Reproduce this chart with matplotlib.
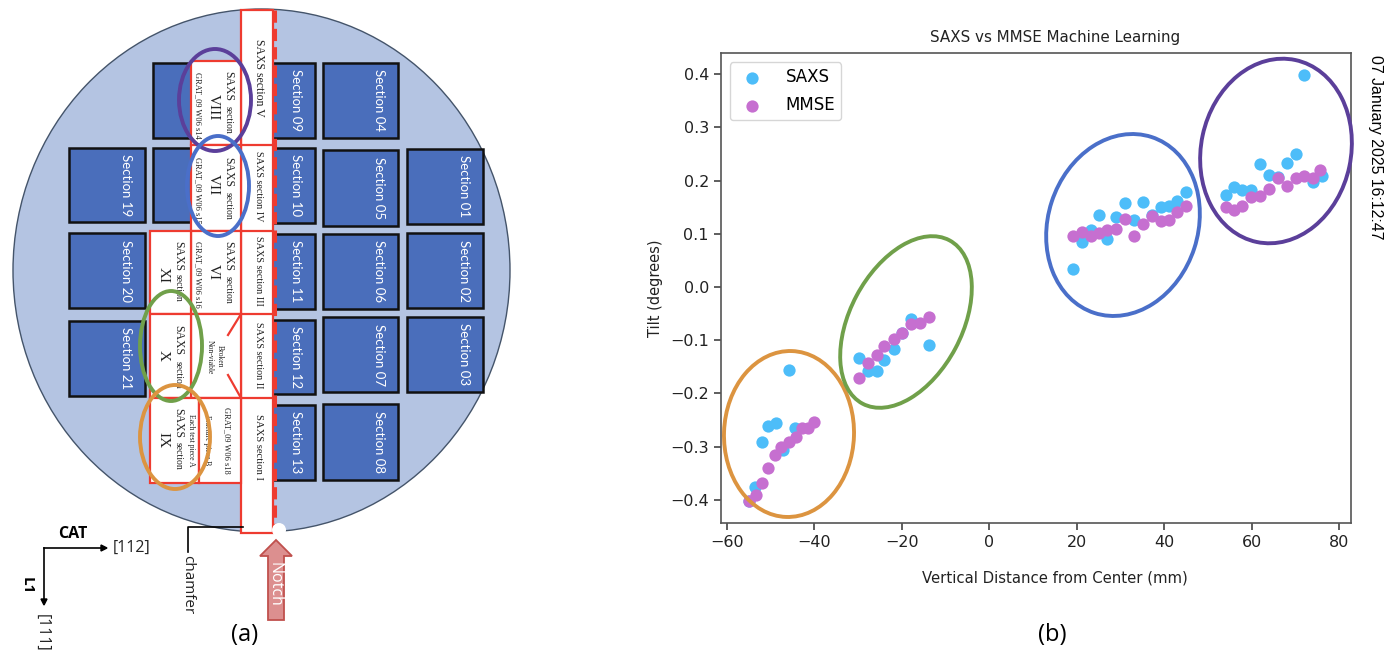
import matplotlib
matplotlib.use('Agg')
import matplotlib.pyplot as plt
from matplotlib.patches import Ellipse, Rectangle, Polygon

# panel (b) data
saxs_x = [-54.9, -53.5, -51.9, -50.5, -48.8, -47.2, -45.9, -44.4,
          -29.8, -27.8, -25.7, -24.0, -21.9, -19.9, -18.0, -13.9,
          19.2, 21.2, 23.2, 25.0, 27.0, 29.0, 31.1, 33.1, 35.1, 37.2, 39.2, 41.1, 43.0, 45.0,
          54.0, 56.0, 57.8, 59.8, 61.9, 63.9, 65.9, 68.0, 70.0, 72.0, 74.0, 76.0]
saxs_y = [-0.402, -0.375, -0.292, -0.261, -0.256, -0.306, -0.156, -0.265,
          -0.134, -0.158, -0.158, -0.137, -0.116, -0.087, -0.060, -0.108,
          0.033, 0.085, 0.107, 0.136, 0.090, 0.131, 0.157, 0.126, 0.160, 0.135, 0.150, 0.153, 0.162, 0.179,
          0.172, 0.187, 0.183, 0.183, 0.231, 0.210, 0.207, 0.233, 0.250, 0.398, 0.197, 0.209]
mmse_x = [-54.9, -53.3, -51.9, -50.5, -48.9, -47.7, -45.9, -44.3, -42.9, -41.4, -40.0,
          -29.8, -27.8, -25.7, -24.0, -21.9, -19.9, -18.0, -15.9, -13.9,
          19.2, 21.2, 23.2, 25.0, 27.0, 29.0, 31.1, 33.1, 35.1, 37.2, 39.2, 41.1, 43.0, 45.0,
          54.0, 56.0, 57.8, 59.8, 61.9, 63.9, 65.9, 68.0, 70.0, 72.0, 74.0, 75.6]
mmse_y = [-0.402, -0.390, -0.368, -0.340, -0.315, -0.301, -0.291, -0.282, -0.264, -0.264, -0.254,
          -0.170, -0.143, -0.127, -0.110, -0.098, -0.086, -0.069, -0.068, -0.057,
          0.095, 0.104, 0.095, 0.102, 0.107, 0.109, 0.128, 0.095, 0.119, 0.134, 0.124, 0.125, 0.140, 0.152,
          0.150, 0.145, 0.153, 0.169, 0.171, 0.185, 0.205, 0.189, 0.205, 0.208, 0.205, 0.219]
x_ticks = [-60, -40, -20, 0, 20, 40, 60, 80]
y_ticks = [-0.4, -0.3, -0.2, -0.1, 0.0, 0.1, 0.2, 0.3, 0.4]

# panel (a) wafer map
section_names = ['Section 04', 'Section 05', 'Section 06', 'Section 07', 'Section 08',
                 'Section 01', 'Section 02', 'Section 03',
                 'Section 19', 'Section 20', 'Section 21',
                 'Section 09', 'Section 10', 'Section 11', 'Section 12', 'Section 13']
section_boxes = [(323, 63, 398, 138), (323, 150, 398, 226), (323, 234, 398, 309), (323, 317, 398, 392), (323, 404, 398, 480),
                 (407, 149, 483, 224), (407, 233, 483, 308), (407, 317, 483, 392),
                 (69, 148, 145, 222), (69, 233, 145, 308), (69, 321, 145, 396),
                 (270, 63, 315, 138), (270, 148, 315, 223), (270, 234, 315, 309), (270, 320, 315, 394), (270, 405, 315, 480)]
hidden_boxes = [(153, 63, 200, 138), (153, 148, 200, 222)]

W, H = 1395, 654
BLUE = '#4a6ebb'
RED = '#ee3b30'

fig = plt.figure(figsize=(W / 100, H / 100), dpi=100)

# scatter panel
ax = fig.add_axes([720.7 / W, 1 - 522.7 / H, 630 / W, 469.4 / H])
ax.scatter(saxs_x, saxs_y, s=78, color='#4dbdf9', label='SAXS', linewidths=0)
ax.scatter(mmse_x, mmse_y, s=78, color='#c66fd0', label='MMSE', linewidths=0)
ax.set_xlim(-61.4, 82.6)
ax.set_ylim(-0.4427, 0.439)
ax.set_xticks(x_ticks)
ax.set_yticks(y_ticks)
ax.tick_params(labelsize=11.5, width=1.1, length=5, color='#333333', labelcolor='#222222')
for s in ax.spines.values():
    s.set_color('#555555')
    s.set_linewidth(1.2)
ax.set_title('SAXS vs MMSE Machine Learning', fontsize=10.9, pad=8, x=0.53, color='#222222')
ax.set_xlabel('Vertical Distance from Center (mm)', fontsize=10.7, labelpad=15, x=0.53, color='#222222')
ax.set_ylabel('Tilt (degrees)', fontsize=10.5, labelpad=5, color='#222222')
ax.legend(loc='upper left', fontsize=12, borderaxespad=0.55, labelspacing=0.6, handletextpad=1.0, borderpad=0.35)

# overlay in picture pixels for the diagram and the ellipses
ov = fig.add_axes([0, 0, 1, 1], zorder=5)
ov.set_xlim(0, W)
ov.set_ylim(H, 0)
ov.axis('off')
ov.patch.set_alpha(0)


def box(x0, y0, x1, y1, fc='white', ec=RED, lw=1.6, z=3):
    ov.add_patch(Rectangle((x0, y0), x1 - x0, y1 - y0, fc=fc, ec=ec, lw=lw, zorder=z))


def label(x, y, s, size, family='Liberation Serif', color='#222222', rot=-90, z=4, **kw):
    ov.text(x, y, s, fontsize=size, family=family, color=color, rotation=rot,
            ha='center', va='center', zorder=z, **kw)


def ring(x, y, w, h, angle, color, lw=2.8):
    ov.add_patch(Ellipse((x, y), w, h, angle=angle, fc='none', ec=color, lw=lw, zorder=6))


ov.add_patch(Ellipse((261.5, 270.5), 497, 523, fc='#b4c4e2', ec='#44546a', lw=1.0, zorder=1))

for name, b in zip(section_names, section_boxes):
    box(*b, fc=BLUE, ec='#111111', lw=1.8, z=2)
    label(b[2] - 19, (b[1] + b[3]) / 2, name, 9.5, family='Lato', color='white', z=2.5)
for b in hidden_boxes:
    box(*b, fc=BLUE, ec='#111111', lw=1.8, z=2)

# long strip with sections I to V
box(241, 10, 273, 533)
for y in [145, 231, 314, 398]:
    ov.plot([241, 273], [y, y], color=RED, lw=1.6, zorder=3.5)
label(259, 78, 'SAXS section V', 8.5)
label(259, 186, 'SAXS section IV', 7.3)
label(259, 271, 'SAXS section III', 7.3)
label(259, 355, 'SAXS section II', 7.3)
label(259, 447, 'SAXS section I', 7.7)
ov.plot([275, 275], [10, 533], color=RED, lw=2.2, ls=(0, (4, 2)), zorder=4)

# second column
box(191, 61, 241, 145)
label(228, 86, 'SAXS', 8.5)
label(228, 120, 'section', 7)
label(213, 107, 'VIII', 11)
label(198, 105, 'GRAT_09 W06 s14', 6)
box(191, 145, 241, 231)
label(228, 172, 'SAXS', 8.5)
label(228, 206, 'section', 7)
label(213, 185, 'VII', 11)
label(198, 190, 'GRAT_09 W06 s15', 6)
box(191, 231, 241, 314)
label(228, 256, 'SAXS', 8.5)
label(228, 290, 'section', 7)
label(213, 272, 'VI', 11)
label(198, 274, 'GRAT_09 W06 s16', 6)

# broken piece
box(191, 314, 241, 398)
ov.plot([241, 228], [314, 335], color=RED, lw=1.6, zorder=4)
ov.plot([228, 241], [375, 398], color=RED, lw=1.6, zorder=4)
label(220, 356, 'Broken', 5.5)
label(210, 357, 'Non-viable', 5.5)

# third column
box(150, 231, 191, 314)
label(178, 256, 'SAXS', 8.5)
label(178, 288, 'section', 7)
label(163, 275, 'XI', 11)
box(150, 314, 191, 398)
label(178, 340, 'SAXS', 8.5)
label(178, 375, 'section', 7)
label(163, 356, 'X', 11)
box(150, 398, 199, 483)
box(199, 398, 241, 483)
label(178, 423, 'SAXS', 8.5)
label(178, 456, 'section', 7)
label(163, 440, 'IX', 11)
label(191, 440, 'Each test piece A', 5.5)
label(207, 440, 'Fracture piece B', 5.5)
label(227, 440, 'GRAT_09 W06 s18', 6)

# ellipses on the map
ring(215, 100, 72, 102, 0, '#5b3f9a')
ring(218, 186, 62, 100, 0, '#4a6fc9')
ring(171, 346, 62, 110, 0, '#70a04a')
ring(175, 437, 70, 104, 0, '#dc9440')

# axis arrows and notes
ov.plot([44, 44], [548, 600], color='black', lw=1.2, zorder=4)
ov.plot([44, 104], [548, 548], color='black', lw=1.2, zorder=4)
ov.add_patch(Polygon([(107, 548), (101, 545), (101, 551)], fc='black', ec='black', zorder=4))
ov.add_patch(Polygon([(44, 605), (41, 599), (47, 599)], fc='black', ec='black', zorder=4))
label(73, 534, 'CAT', 11.5, family='Open Sans', color='black', rot=0, weight='bold')
label(132, 548, '[112]', 11.5, family='Open Sans', rot=0)
label(27, 586, 'L1', 11, family='Open Sans', color='black', weight='bold')
label(42, 633, '[111]', 11.5, family='Open Sans')
ov.plot([243, 188, 188], [527, 527, 552], color='black', lw=1.2, zorder=4)
label(188, 585, 'chamfer', 11, family='Open Sans')
ov.add_patch(Ellipse((279, 530), 14, 14, fc='white', ec='none', zorder=5))
ov.add_patch(Polygon([(276, 540), (292, 556), (284, 556), (284, 620), (268, 620), (268, 556), (260, 556)],
                     fc='#dc8f8f', ec='#c0504d', lw=1.3, zorder=4))
label(275, 584, 'Notch', 11.5, family='Open Sans', color='white', z=5)
label(245, 635, '(a)', 17, family='Open Sans', color='black', rot=0)
label(1052, 635, '(b)', 17, family='Open Sans', color='black', rot=0)

# ellipses on the scatter
ring(789, 434, 166, 130, -88, '#dc9440')
ring(906, 322, 185, 112, -62, '#70a04a')
ring(1123, 225, 185, 150, -72, '#4a6fc9')
ring(1276, 151, 186, 150, -78, '#5b3f9a')

label(1375, 147, '07 January 2025 16:12:47', 11.4, family='Liberation Sans', color='black')

fig.savefig('out.png', dpi=100)
